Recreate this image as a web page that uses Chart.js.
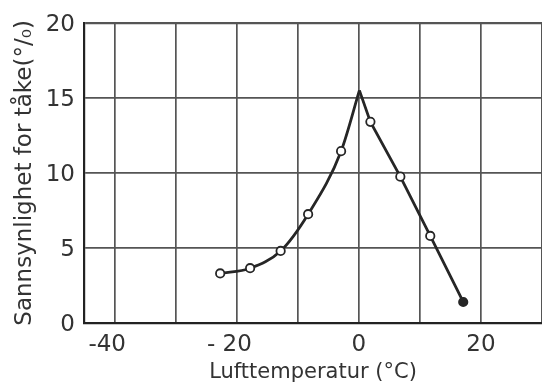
<!DOCTYPE html>
<html lang="no">
<head>
    <meta charset="UTF-8">
    <title>Sannsynlighet for tåke</title>
    <script src="https://cdn.jsdelivr.net/npm/chart.js@4.4.0/dist/chart.umd.min.js"></script>
    <style>
        html, body {
            margin: 0;
            padding: 0;
            background: #fff;
            overflow: hidden;
        }
        .chart-box {
            width: 550px;
            height: 385px;
        }
    </style>
</head>
<body>
    <div class="chart-box">
        <canvas id="fogChart" width="550" height="385"></canvas>
    </div>

    <script>
        // Rising branch (smooth curve) up to the peak near 0 °C
        const coldTemps = [-22.7, -17.8, -12.8, -8.3, -2.9, 0.1];
        const coldProb = [3.3, 3.65, 4.8, 7.25, 11.45, 15.5];

        // Falling branch (straight) from the peak
        const warmTemps = [0.1, 1.9, 6.8, 11.7, 17.1];
        const warmProb = [15.5, 13.4, 9.75, 5.8, 1.4];

        // Axis ticks
        const xGridTicks = [-40, -30, -20, -10, 0, 10, 20, 30];
        const xLabelTicks = [-40, -20, 0, 20];
        const yTicks = [0, 5, 10, 15, 20];

        const toPoints = (xs, ys) => xs.map((x, i) => ({ x: x, y: ys[i] }));

        const lineColor = '#262626';
        const gridColor = '#555';
        const textColor = '#333';

        // negative labels get a trailing pad so the digits sit on the grid line
        function xLabel(v) {
            if (!xLabelTicks.includes(v)) return '';
            if (v === -20) return '- 20  ';
            if (v < 0) return '-' + Math.abs(v) + '  ';
            return String(v);
        }

        const ctx = document.getElementById('fogChart').getContext('2d');
        new Chart(ctx, {
            type: 'line',
            data: {
                datasets: [{
                    label: 'kald',
                    data: toPoints(coldTemps, coldProb),
                    borderColor: lineColor,
                    borderWidth: 2.8,
                    cubicInterpolationMode: 'monotone',
                    pointRadius: coldTemps.map((t, i) => i === coldTemps.length - 1 ? 0 : 4.2),
                    pointBackgroundColor: '#fff',
                    pointBorderColor: lineColor,
                    pointBorderWidth: 1.8,
                    fill: false
                }, {
                    label: 'varm',
                    data: toPoints(warmTemps, warmProb),
                    borderColor: lineColor,
                    borderWidth: 2.8,
                    tension: 0,
                    pointRadius: warmTemps.map((t, i) => i === 0 ? 0 : 4.2),
                    pointBackgroundColor: warmTemps.map((t, i) => i === warmTemps.length - 1 ? lineColor : '#fff'),
                    pointBorderColor: lineColor,
                    pointBorderWidth: 1.8,
                    fill: false
                }]
            },
            options: {
                responsive: false,
                animation: false,
                layout: {
                    padding: { top: 20, right: 5, left: 0, bottom: 0 }
                },
                plugins: {
                    legend: { display: false },
                    tooltip: { enabled: false }
                },
                scales: {
                    x: {
                        type: 'linear',
                        min: -45,
                        max: 30,
                        afterBuildTicks: (scale) => {
                            scale.ticks = xGridTicks.map(v => ({ value: v }));
                        },
                        afterFit: (scale) => {
                            scale.height = 62;
                        },
                        ticks: {
                            padding: 8,
                            color: textColor,
                            font: { family: 'DejaVu Sans', size: 23 },
                            callback: xLabel
                        },
                        grid: {
                            color: gridColor,
                            lineWidth: 1.7,
                            drawTicks: false
                        },
                        border: {
                            color: '#222',
                            width: 2.2
                        },
                        title: {
                            display: true,
                            text: 'Lufttemperatur (°C)',
                            color: textColor,
                            font: { family: 'DejaVu Sans', size: 21 },
                            padding: { top: 0, bottom: 0 }
                        }
                    },
                    y: {
                        min: 0,
                        max: 20,
                        afterBuildTicks: (scale) => {
                            scale.ticks = yTicks.map(v => ({ value: v }));
                        },
                        afterFit: (scale) => {
                            scale.width = 84;
                        },
                        ticks: {
                            padding: 9,
                            labelOffset: 2,
                            color: textColor,
                            font: { family: 'DejaVu Sans', size: 23 }
                        },
                        grid: {
                            color: gridColor,
                            lineWidth: (c) => c.tick && c.tick.value === 20 ? 2.2 : 1.7,
                            drawTicks: false
                        },
                        border: {
                            color: '#222',
                            width: 2.2
                        },
                        title: {
                            display: true,
                            text: 'Sannsynlighet for tåke(°/₀)',
                            color: textColor,
                            font: { family: 'DejaVu Sans', size: 23 },
                            padding: { top: 11, bottom: 0 }
                        }
                    }
                }
            }
        });
    </script>
</body>
</html>
